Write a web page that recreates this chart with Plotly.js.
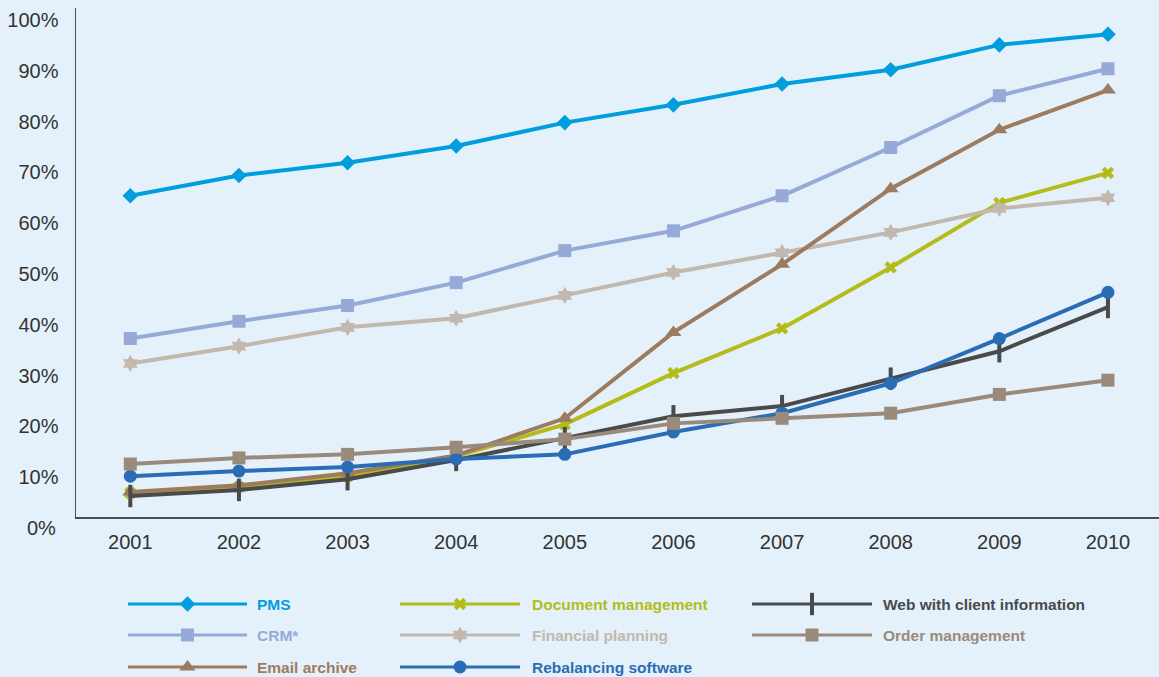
<!DOCTYPE html>
<html>
<head>
<meta charset="utf-8">
<script src="https://cdn.plot.ly/plotly-3.0.1.min.js"></script>
<style>html,body{margin:0;padding:0;background:#E5F1FA;}#chart{width:1159px;height:677px;}</style>
</head>
<body>
<div id="chart"></div>
<script>
const years = ["2001","2002","2003","2004","2005","2006","2007","2008","2009","2010"];
const yTicks = [10,20,30,40,50,60,70,80,90,100];

const seriesNames = ["PMS","Document management","Web with client information","CRM*","Financial planning","Order management","Email archive","Rebalancing software"];
const pms        = [65.4,69.4,71.9,75.2,79.8,83.3,87.4,90.2,95.1,97.2];
const docMgmt    = [6.9,8.1,10.2,14.1,20.4,30.5,39.3,51.3,64.0,69.9];
const webClient  = [6.3,7.5,9.6,13.4,17.7,22.0,24.0,29.4,34.8,43.5];
const crm        = [37.3,40.7,43.8,48.3,54.6,58.5,65.4,74.9,85.1,90.4];
const finPlan    = [32.4,35.8,39.5,41.3,45.8,50.3,54.2,58.2,62.9,65.0];
const orderMgmt  = [12.6,13.8,14.5,15.9,17.5,20.6,21.6,22.6,26.3,29.1];
const emailArch  = [7.1,8.4,10.8,14.3,21.6,38.5,51.9,66.8,78.4,86.2];
const rebalance  = [10.2,11.2,12.0,13.6,14.5,18.9,22.6,28.5,37.3,46.4];

const values = [pms, docMgmt, webClient, crm, finPlan, orderMgmt, emailArch, rebalance];
const colors = ["#009EDC","#B3BC1A","#484A4C","#97A9D6","#C3B8AD","#9A8A7C","#9C7B5E","#2A6DB4"];
const symbols = ["diamond","x","line-ns","square","hexagram","square","triangle-up","circle"];
const sizes = [12,11,16,13,13,13,14,13];
// legend layout (pixel coords of the page)
const legCols = [[128,247,255],[400,520,530],[752,872,881]];
const legRows = [604,635,667];

const drawOrder = [1,4,6,3,2,7,5,0];
const traces = [];
drawOrder.forEach(i => {
  const isLine = symbols[i] === "line-ns";
  traces.push({
    x: years, y: values[i], type: "scatter", mode: "lines+markers", name: seriesNames[i],
    line: {color: colors[i], width: 4},
    marker: {symbol: symbols[i], size: sizes[i], color: colors[i],
             line: {color: colors[i], width: isLine ? 4 : 0}},
    showlegend: false, hoverinfo: "skip", xaxis: "x", yaxis: "y"
  });
});

const annotations = [];
seriesNames.forEach((nm, i) => {
  const col = legCols[i % 3], row = legRows[Math.floor(i / 3)];
  const isLine = symbols[i] === "line-ns";
  traces.push({
    x: [col[0], col[1]], y: [row, row], type: "scatter", mode: "lines",
    line: {color: colors[i], width: 3}, showlegend: false, hoverinfo: "skip",
    xaxis: "x2", yaxis: "y2"
  });
  traces.push({
    x: [(col[0] + col[1]) / 2], y: [row], type: "scatter", mode: "markers",
    marker: {symbol: symbols[i], size: sizes[i], color: colors[i],
             line: {color: colors[i], width: isLine ? 4 : 0}},
    showlegend: false, hoverinfo: "skip", xaxis: "x2", yaxis: "y2"
  });
  annotations.push({
    x: col[2], y: row, xref: "x2", yref: "y2", xanchor: "left", yanchor: "middle",
    text: nm, showarrow: false,
    font: {family: "Liberation Sans, Arial, sans-serif", size: 15.5, color: colors[i], weight: "bold"}
  });
});
annotations.push({
  x: 58/1159, y: (677-528)/677, xref: "paper", yref: "paper", xanchor: "right", yanchor: "middle",
  text: "0%", showarrow: false,
  font: {family: "Liberation Sans, Arial, sans-serif", size: 20, color: "#333333"}
});

const layout = {
  width: 1159, height: 677,
  margin: {l: 0, r: 0, t: 0, b: 0},
  paper_bgcolor: "#E5F1FA", plot_bgcolor: "#E5F1FA",
  showlegend: false,
  xaxis: {
    domain: [76/1159, 1], type: "category", range: [-0.5, 9.47],
    showline: true, linecolor: "#4D4D4D", linewidth: 1.5, showgrid: false, zeroline: false,
    ticks: "", ticklabelstandoff: 6, automargin: false,
    tickfont: {family: "Liberation Sans, Arial, sans-serif", size: 20, color: "#333333"}
  },
  yaxis: {
    domain: [160/677, 669/677], range: [2.17, 102.36],
    tickvals: yTicks, ticktext: yTicks.map(v => v + "%"),
    showline: true, linecolor: "#4D4D4D", linewidth: 1.5, showgrid: false, zeroline: false,
    ticks: "", ticklabelstandoff: 12, automargin: false,
    tickfont: {family: "Liberation Sans, Arial, sans-serif", size: 20, color: "#333333"}
  },
  xaxis2: {domain: [0, 1], range: [0, 1159], anchor: "y2", visible: false, fixedrange: true},
  yaxis2: {domain: [0, 160/677], range: [677, 517], anchor: "x2", visible: false, fixedrange: true},
  annotations: annotations
};

Plotly.newPlot("chart", traces, layout, {staticPlot: true, displayModeBar: false});
</script>
</body>
</html>
